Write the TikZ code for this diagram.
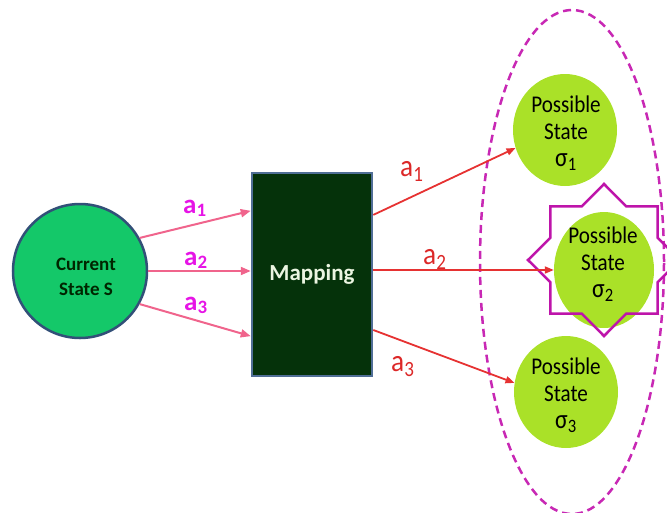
\documentclass[tikz,border=0pt]{standalone}
\usepackage{fontspec}
\setmainfont{Carlito}
\newfontfamily\possfont[FakeStretch=0.88]{Carlito}
\usetikzlibrary{shapes.geometric,arrows.meta,calc}
\definecolor{curfill}{RGB}{20,200,105}
\definecolor{curborder}{RGB}{50,80,120}
\definecolor{mapfill}{RGB}{5,50,10}
\definecolor{mapborder}{RGB}{80,110,150}
\definecolor{maptext}{RGB}{235,245,225}
\definecolor{possfill}{RGB}{170,225,40}
\definecolor{starcol}{RGB}{190,20,170}
\definecolor{dashcol}{RGB}{200,40,180}
\definecolor{pinkcol}{RGB}{240,100,140}
\definecolor{pinklabel}{RGB}{230,20,230}
\definecolor{redcol}{RGB}{230,50,50}
\definecolor{redlabel}{RGB}{220,40,40}
\begin{document}
\begin{tikzpicture}[x=1pt,y=-1pt,
 curstate/.style={circle, draw=curborder, line width=2.5pt, fill=curfill, minimum size=134pt, inner sep=0pt},
 mapbox/.style={rectangle, draw=mapborder, line width=2.5pt, fill=mapfill, minimum width=120pt, minimum height=203pt, inner sep=0pt},
 possible/.style={ellipse, fill=possfill, minimum width=104pt, minimum height=112pt, inner sep=0pt},
 posstext/.style={align=center, font=\possfont\fontsize{24}{27}\selectfont, text=black, inner sep=0pt},
 starbox/.style={star, star points=8, star point ratio=1.31, minimum size=152pt, draw=starcol, line width=2.5pt, inner sep=0pt},
 groupline/.style={ellipse, draw=dashcol, line width=2.5pt, dash pattern=on 8pt off 5pt, minimum width=184pt, minimum height=504pt, inner sep=0pt},
 pinkarr/.style={draw=pinkcol, line width=2pt, -{Triangle[length=10pt,width=8pt]}},
 redarr/.style={draw=redcol, line width=1.8pt, -{Triangle[length=9pt,width=7pt]}},
 pinklab/.style={text=pinklabel, font=\bfseries\fontsize{27}{27}\selectfont, inner sep=0pt, anchor=base west},
 redlab/.style={text=redlabel, font=\possfont\fontsize{31}{31}\selectfont, inner sep=0pt, anchor=base west}]
\useasboundingbox (0,0) rectangle (667,512);
\clip (0,0) rectangle (667,512);

% group ellipse
\node[groupline] (grp) at (572,262) {};

% nodes
\node[curstate] (cur) at (80,271) {};
\node[align=center, font=\bfseries\fontsize{19}{25}\selectfont, text=black!85!green] (curtxt) at (86,277) {Current\\State S};

\node[mapbox] (map) at (312,274.5) {};
\node[font=\bfseries\fontsize{23}{23}\selectfont, text=maptext] (maptxt) at (map) {Mapping};

\node[possible] (s1) at (565,130) {};
\node[possible, minimum width=100pt, minimum height=116pt] (s2) at (604,270) {};
\node[possible] (s3) at (566,392) {};
\node[starbox] (star) at (604,260) {};

\node[posstext] (t1) at (566,133) {Possible\\State\\{\fontsize{27}{27}\selectfont σ\textsubscript{1}}};
\node[posstext] (t2) at (603,264) {Possible\\State\\{\fontsize{27}{27}\selectfont σ\textsubscript{2}}};
\node[posstext] (t3) at (566,395) {Possible\\State\\{\fontsize{27}{27}\selectfont σ\textsubscript{3}}};

% pink connectors
\draw[pinkarr] (cur.29) -- ($(map.north west)!0.19!(map.south west)$);
\draw[pinkarr] (cur.east) -- (cur.east -| map.west);
\draw[pinkarr] (cur.-29) -- ($(map.north west)!0.80!(map.south west)$);

% red connectors
\draw[redarr] ($(map.north east)!0.21!(map.south east)$) -- (s1.200);
\draw[redarr] (map.east |- s2.west) -- (s2.west);
\draw[redarr] ($(map.north east)!0.77!(map.south east)$) -- (s3.170);

% labels
\node[pinklab] (la1) at (183,213) {a\textsubscript{1}};
\node[pinklab] (la2) at (184,265) {a\textsubscript{2}};
\node[pinklab] (la3) at (184,310) {a\textsubscript{3}};

\node[redlab] (ra1) at (400,176) {a\textsubscript{1}};
\node[redlab] (ra2) at (423,264) {a\textsubscript{2}};
\node[redlab] (ra3) at (391,371) {a\textsubscript{3}};
\end{tikzpicture}
\end{document}
